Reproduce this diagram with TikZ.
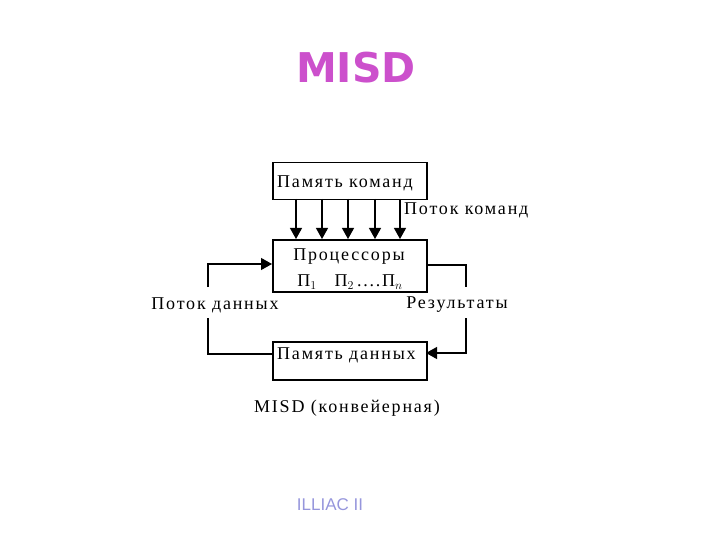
\documentclass[tikz,border=0pt]{standalone}
\usepackage{fontspec}
\setmainfont{Liberation Serif}[LetterSpace=10]
\newfontfamily\titlefont{DejaVu Sans}
\newfontfamily\linkfont{Liberation Sans}
\usetikzlibrary{arrows.meta}
\definecolor{titlemag}{RGB}{204,80,204}
\definecolor{linkblue}{RGB}{150,150,220}
\tikzset{
  blk/.style={draw, line width=1.5pt, minimum width=154pt, inner sep=0pt},
  lbl/.style={font=\fontsize{18}{20}\selectfont, inner sep=0pt},
  conn/.style={line width=1.2pt, -{Triangle[length=11pt,width=12pt]}},
  wire/.style={line width=1.2pt}
}
\begin{document}
\begin{tikzpicture}[x=1pt,y=-1pt]
\useasboundingbox (0,0) rectangle (720,540);
\node[font=\titlefont\bfseries\fontsize{41}{45}\selectfont, text=titlemag, inner sep=0pt] (title) at (356,68) {MISD};
% boxes
\node[blk, minimum height=37pt, anchor=north west] (cmd) at (272,162) {};
\node[lbl, anchor=west] (cmdt) at (277,183) {Память команд};
\node[blk, minimum height=52pt, anchor=north west] (proc) at (272,239) {};
\node[lbl] (proct) at (349,257) {Процессоры};
\node[lbl] (procn) at (350,282) {П$_1$\quad П$_2$\,....П$_n$};
\node[blk, minimum height=38pt, anchor=north west] (dat) at (272,341) {};
\node[lbl, anchor=west] (datt) at (277,355) {Память данных};
% command stream arrows
\foreach \i/\x in {1/296,2/322,3/348,4/375,5/400}{
  \coordinate (a\i) at (\x,199);
  \coordinate (b\i) at (\x,239);
  \draw[conn] (a\i) -- (b\i);
}
\node[lbl, anchor=west] (cmdstream) at (404,210) {Поток команд};
% data loop left
\coordinate (l1) at (208,264);
\coordinate (l2) at (208,287);
\coordinate (l3) at (208,318);
\coordinate (l4) at (208,354);
\coordinate (pin) at (272,264);
\coordinate (dout) at (272,354);
\draw[wire] (dout) -- (l4) -- (l3);
\draw[conn] (l2) -- (l1) -- (pin);
\node[lbl] (datastream) at (215,305) {Поток данных};
% results loop right
\coordinate (r1) at (466,265);
\coordinate (r2) at (466,287);
\coordinate (r3) at (466,318);
\coordinate (r4) at (466,353);
\coordinate (pout) at (426,265);
\coordinate (din) at (426,353);
\draw[wire] (pout) -- (r1) -- (r2);
\draw[conn] (r3) -- (r4) -- (din);
\node[lbl] (results) at (457,305) {Результаты};
% caption
\node[lbl] (cap) at (347,408) {MISD (конвейерная)};
\node[font=\linkfont\fontsize{17}{19}\selectfont, text=linkblue, inner sep=0pt] (link) at (330,505) {ILLIAC II};
\end{tikzpicture}
\end{document}
